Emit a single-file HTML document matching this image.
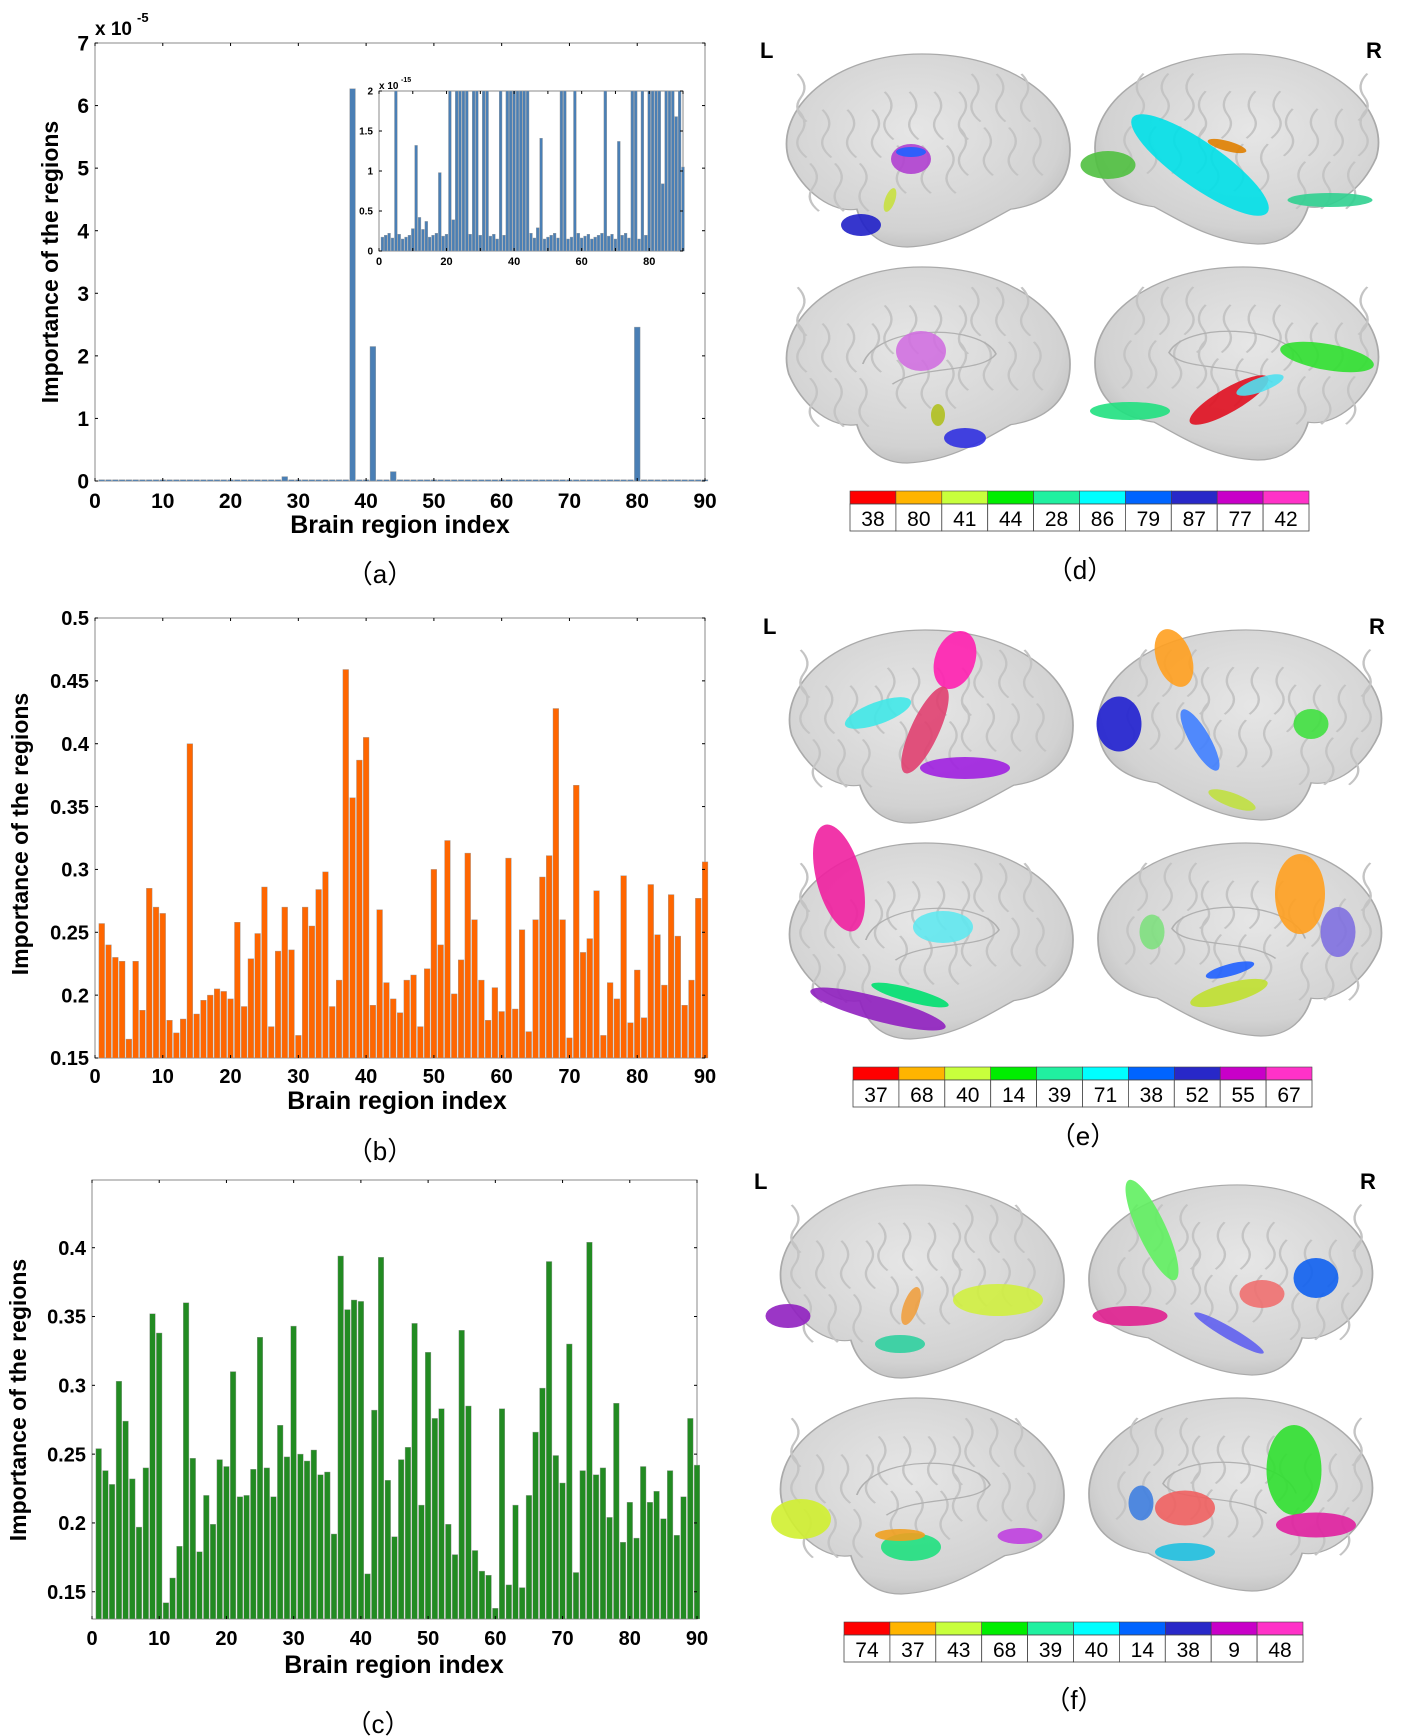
<!DOCTYPE html><html><head><meta charset="utf-8"><style>
body{margin:0;background:#fff}svg{display:block}
text{font-family:"Liberation Sans",sans-serif}
</style></head><body>
<svg id="s" width="1404" height="1736" xmlns="http://www.w3.org/2000/svg"></svg>
<script>
var s=document.getElementById('s'),h='';
h+='<defs><radialGradient id="bg" cx="45%" cy="40%" r="65%"><stop offset="0" stop-color="#e6e6e6"/><stop offset="0.8" stop-color="#d2d2d2"/><stop offset="1" stop-color="#bdbdbd"/></radialGradient></defs>';
function T(x,y,t,sz,anc,extra){h+='<text x="'+x+'" y="'+y+'" font-size="'+sz+'" text-anchor="'+(anc||'middle')+'" '+(extra||'')+'>'+t+'</text>';}
var SER='font-family="Liberation Serif, Noto Serif CJK SC, serif"';
function chart(o){
 var L=o.x0,R=o.x1,Tp=o.yt,B=o.yb;
 h+='<rect x="'+L+'" y="'+Tp+'" width="'+(R-L)+'" height="'+(B-Tp)+'" fill="#fff" stroke="#888" stroke-width="1"/>';
 var sx=(R-L)/90;
 function Y(v){return B-(v-o.vmin)/(o.vmax-o.vmin)*(B-Tp);}
 for(var i=0;i<o.d.length;i++){var v=o.d[i],idx=o.start+i;var x=L+idx*sx-sx*0.42;var y=Y(Math.min(v,o.vmax));
  h+='<rect x="'+x.toFixed(1)+'" y="'+y.toFixed(1)+'" width="'+(sx*0.84).toFixed(1)+'" height="'+(B-y).toFixed(1)+'" fill="'+o.c+'" stroke="#999" stroke-width="0.4"/>';}
 for(var k=0;k<=90;k+=10){var x=L+k*sx;h+='<line x1="'+x+'" y1="'+B+'" x2="'+x+'" y2="'+(B-3)+'" stroke="#000"/><line x1="'+x+'" y1="'+Tp+'" x2="'+x+'" y2="'+(Tp+3)+'" stroke="#000"/>';
  if(o.xl)T(x,o.xly,k,o.fs,'middle','font-weight="bold"');}
 o.yt2.forEach(function(t){var y=Y(t[0]);h+='<line x1="'+L+'" y1="'+y+'" x2="'+(L+3)+'" y2="'+y+'" stroke="#000"/><line x1="'+R+'" y1="'+y+'" x2="'+(R-3)+'" y2="'+y+'" stroke="#000"/>';T(L-6,y+o.fs*0.36,t[1],o.fs,'end','font-weight="bold"');});
}
var zeros=[];for(var i=1;i<=90;i++)zeros.push(0.02);
zeros[27]=0.07;zeros[37]=6.27;zeros[40]=2.15;zeros[43]=0.15;zeros[79]=2.46;
chart({x0:95,x1:705,yt:43,yb:481,vmin:0,vmax:7,d:zeros,start:1,c:'#4a7fb5',xl:1,xly:508,fs:21,yt2:[[0,'0'],[1,'1'],[2,'2'],[3,'3'],[4,'4'],[5,'5'],[6,'6'],[7,'7']]});
T(95,35,'x 10','19','start','font-weight="bold"');T(137,22,'-5','13','start','font-weight="bold"');
var ins=[];for(var i=1;i<=90;i++)ins.push(0.15+((i*37)%7)*0.012);
[5,21,23,24,25,26,28,29,31,32,36,38,39,40,41,42,43,44,54,55,58,67,75,76,78,80,81,82,83,85,86,87,89].forEach(function(i){ins[i-1]=2.2});
ins[10]=1.32;ins[11]=0.42;ins[12]=0.27;ins[13]=0.37;ins[17]=0.98;ins[21]=0.39;ins[46]=0.29;ins[47]=1.41;ins[70]=1.37;ins[83]=0.84;ins[87]=1.68;ins[89]=1.05;ins[9]=0.28;
chart({x0:379,x1:683,yt:91,yb:251,vmin:0,vmax:2,d:ins,start:1,c:'#4a7fb5',xl:0,fs:10,yt2:[[0,'0'],[0.5,'0.5'],[1,'1'],[1.5,'1.5'],[2,'2']]});
[0,20,40,60,80].forEach(function(k){T(379+k*304/90,265,k,11,'middle','font-weight="bold"');});
T(379,89,'x 10',10,'start','font-weight="bold"');T(401,82,'-15',7,'start','font-weight="bold"');
T(400,533,'Brain region index',25,'middle','font-weight="bold"');
T(0,0,'Importance of the regions',23,'middle','font-weight="bold" transform="translate(58,262) rotate(-90)"');
T(380,583,'（a）',26,'middle',SER);
var b=[0.257,0.24,0.23,0.227,0.165,0.227,0.188,0.285,0.27,0.265,0.18,0.17,0.181,0.4,0.185,0.196,0.2,0.205,0.203,0.197,0.258,0.191,0.229,0.249,0.286,0.175,0.235,0.27,0.236,0.168,0.27,0.255,0.284,0.298,0.191,0.212,0.459,0.357,0.387,0.405,0.192,0.268,0.21,0.197,0.186,0.212,0.216,0.175,0.221,0.3,0.24,0.323,0.201,0.228,0.313,0.26,0.212,0.18,0.206,0.187,0.309,0.189,0.252,0.171,0.26,0.294,0.311,0.428,0.26,0.166,0.367,0.234,0.245,0.283,0.168,0.21,0.197,0.295,0.178,0.22,0.182,0.288,0.248,0.208,0.28,0.247,0.192,0.212,0.277,0.306];
chart({x0:95,x1:705,yt:618,yb:1058,vmin:0.15,vmax:0.5,d:b,start:1,c:'#ff6600',xl:1,xly:1083,fs:20,yt2:[[0.15,'0.15'],[0.2,'0.2'],[0.25,'0.25'],[0.3,'0.3'],[0.35,'0.35'],[0.4,'0.4'],[0.45,'0.45'],[0.5,'0.5']]});
T(397,1109,'Brain region index',25,'middle','font-weight="bold"');
T(0,0,'Importance of the regions',23,'middle','font-weight="bold" transform="translate(28,834) rotate(-90)"');
T(380,1160,'（b）',26,'middle',SER);
var c=[0.254,0.238,0.228,0.303,0.274,0.232,0.197,0.24,0.352,0.338,0.142,0.16,0.183,0.36,0.247,0.179,0.22,0.199,0.246,0.241,0.31,0.219,0.22,0.239,0.335,0.24,0.219,0.271,0.248,0.343,0.25,0.245,0.253,0.235,0.237,0.192,0.394,0.355,0.362,0.361,0.163,0.282,0.393,0.231,0.19,0.246,0.255,0.345,0.213,0.324,0.276,0.283,0.199,0.177,0.34,0.285,0.18,0.165,0.162,0.138,0.283,0.155,0.213,0.153,0.22,0.266,0.298,0.39,0.249,0.229,0.33,0.164,0.238,0.404,0.235,0.24,0.204,0.287,0.186,0.215,0.189,0.241,0.215,0.223,0.203,0.238,0.191,0.219,0.276,0.242];
chart({x0:92,x1:697,yt:1180,yb:1619,vmin:0.1302,vmax:0.4492,d:c,start:1,c:'#228b22',xl:1,xly:1645,fs:20,yt2:[[0.15,'0.15'],[0.2,'0.2'],[0.25,'0.25'],[0.3,'0.3'],[0.35,'0.35'],[0.4,'0.4']]});
T(394,1673,'Brain region index',25,'middle','font-weight="bold"');
T(0,0,'Importance of the regions',23,'middle','font-weight="bold" transform="translate(26,1400) rotate(-90)"');
T(378,1733,'（c）',26,'middle',SER);
function brain(x0,y0,w,ht,flip,medial){
 var p='M0.05,0.55 C0.0,0.3 0.2,0.02 0.5,0.02 C0.8,0.02 1.0,0.25 1.0,0.5 C1.0,0.7 0.9,0.78 0.8,0.8 C0.7,0.88 0.6,0.98 0.45,0.99 C0.35,0.99 0.3,0.9 0.28,0.8 C0.2,0.82 0.1,0.72 0.05,0.55 Z';
 var tf='translate('+(flip?x0+w:x0)+','+y0+') scale('+(flip?-w:w)+','+ht+')';
 h+='<g transform="'+tf+'"><path d="'+p+'" fill="url(#bg)" stroke="#aaa" stroke-width="0.006"/>';
 for(var i=0;i<22;i++){var a=0.08+((i*13)%20)*0.042,bb=0.12+((i*7)%6)*0.09;h+='<path d="M'+a+','+bb+' q0.04,0.06 0.01,0.12 t0.02,0.12" fill="none" stroke="#c4c4c4" stroke-width="0.008"/>';}
 if(medial)h+='<path d="M0.3,0.5 C0.35,0.3 0.7,0.3 0.75,0.45 C0.7,0.55 0.5,0.5 0.4,0.6" fill="none" stroke="#b0b0b0" stroke-width="0.006"/>';
 h+='</g>';
}
function blob(cx,cy,w,ht,col,rot){h+='<ellipse cx="'+cx+'" cy="'+cy+'" rx="'+w/2+'" ry="'+ht/2+'" fill="'+col+'" opacity="0.9" transform="rotate('+(rot||0)+' '+cx+' '+cy+')"/>';}
var offs=[[0,0],[3,576],[-6,1131]];
offs.forEach(function(o,k){var dx=o[0],dy=o[1];
 brain(774+dx,50+dy,296,199,0,0);brain(1095+dx,50+dy,296,196,1,0);brain(774+dx,263+dy,296,202,0,1);brain(1095+dx,263+dy,296,199,1,1);
 T(760+dx,58+dy,'L',22,'start','font-weight="bold"');T(1366+dx,58+dy,'R',22,'start','font-weight="bold"');
});
blob(911,159,40,30,'#b040d0');blob(911,152,30,10,'#2060ff');blob(861,225,40,22,'#2020c8');blob(890,200,10,25,'#c8e040',20);
blob(1200,165,165,45,'#00e0e8',35);blob(1108,165,55,28,'#50c040');blob(1227,146,40,10,'#e08000',15);blob(1330,200,85,14,'#30d090');
blob(921,351,50,40,'#d070e0');blob(938,415,14,22,'#b0c020');blob(965,438,42,20,'#3030e0');
blob(1327,357,95,26,'#30e030',10);blob(1130,411,80,18,'#20e080');blob(1229,400,90,24,'#e01020',-30);blob(1260,385,50,14,'#50e0f0',-20);
blob(955,660,40,60,'#ff20b0',20);blob(925,730,28,95,'#e04070',25);blob(878,713,70,22,'#40e8e8',-20);blob(965,768,90,22,'#a020e0');
blob(1174,658,35,60,'#ffa020',-20);blob(1200,740,20,70,'#4080ff',-30);blob(1119,724,45,55,'#2020d0');blob(1311,724,35,30,'#40e040');blob(1232,800,50,14,'#c0e040',20);
blob(839,878,45,110,'#f020a0',-15);blob(943,927,60,32,'#60e8f0');blob(878,1009,140,24,'#9020c0',15);blob(910,995,80,14,'#00e070',15);
blob(1300,894,50,80,'#ffa020');blob(1338,932,35,50,'#8070e0');blob(1152,932,25,35,'#80e080');blob(1229,993,80,20,'#c0e030',-15);blob(1230,970,50,12,'#2060ff',-15);
blob(788,1316,45,24,'#9020c0');blob(998,1300,90,32,'#d0f040');blob(911,1306,15,40,'#f0a040',20);blob(900,1344,50,18,'#30d0a0');
blob(1152,1230,28,110,'#60f060',-25);blob(1316,1278,45,40,'#1060f0');blob(1130,1316,75,20,'#e02090');blob(1262,1294,45,28,'#f07070');blob(1229,1333,80,12,'#6060f0',30);
blob(801,1519,60,40,'#d0f030');blob(911,1547,60,28,'#20e080');blob(900,1535,50,12,'#f0a020');blob(1020,1536,45,16,'#c040e0');
blob(1294,1470,55,90,'#30e030');blob(1185,1508,60,35,'#f06060');blob(1316,1525,80,25,'#e020a0');blob(1141,1503,25,35,'#4080e0');blob(1185,1552,60,18,'#20c0e0');
var cols=['#ff0000','#ffb400','#c8ff3c','#00ee00','#20f0a0','#00ffff','#0064ff','#2828c8','#c800c8','#ff32c8'];
function cbar(x,y,nums){var w=(1309-850)/10;for(var i=0;i<10;i++){h+='<rect x="'+(x+i*w)+'" y="'+y+'" width="'+w+'" height="13" fill="'+cols[i]+'" stroke="#444" stroke-width="0.6"/><rect x="'+(x+i*w)+'" y="'+(y+13)+'" width="'+w+'" height="27" fill="#fff" stroke="#444" stroke-width="0.8"/>';T(x+i*w+w/2,y+35,nums[i],21,'middle','font-family="Liberation Serif, serif"');}}
cbar(850,491,['38','80','41','44','28','86','79','87','77','42']);
cbar(853,1067,['37','68','40','14','39','71','38','52','55','67']);
cbar(844,1622,['74','37','43','68','39','40','14','38','9','48']);
T(1080,579,'（d）',26,'middle',SER);
T(1083,1145,'（e）',26,'middle',SER);
T(1074,1709,'（f）',26,'middle',SER);
s.innerHTML=h;
</script></body></html>
